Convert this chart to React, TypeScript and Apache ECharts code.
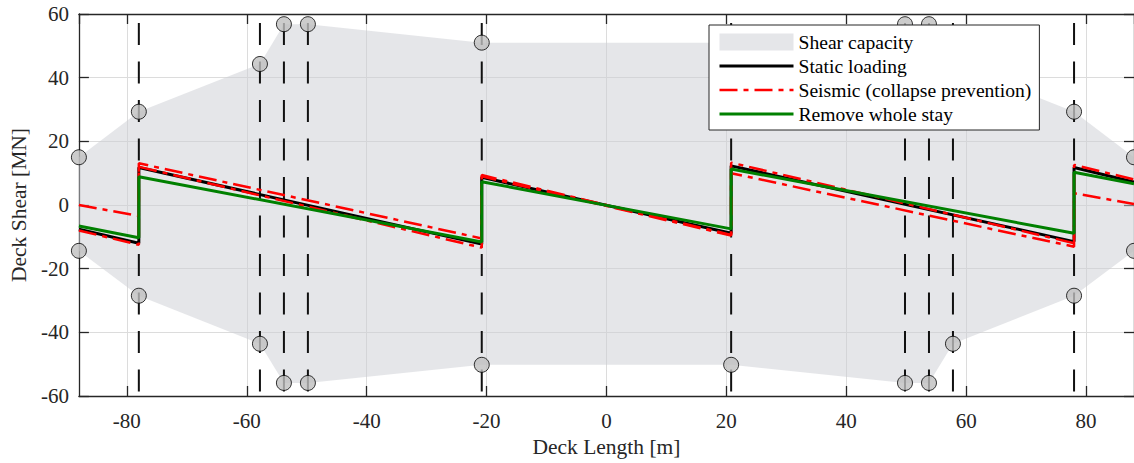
import React, { useEffect, useRef } from "react";
import * as echarts from "echarts";

// ---- data ----
const xMin = -88;
const xMax = 88;

const towerX = [-78, -57.8, -53.8, -49.8, -20.8, 20.8, 49.8, 53.8, 57.8, 78];
const towerTop = 57.2;
const towerBottom = -60;

const capX = [-88, -78, -57.8, -53.8, -49.8, -20.8, 20.8, 49.8, 53.8, 57.8, 78, 88];
const capUpper = [15, 29.3, 44.3, 56.8, 56.8, 51, 51, 56.8, 56.8, 44.3, 29.3, 15];
const capLower = [-14.4, -28.5, -43.6, -55.9, -55.9, -50.2, -50.2, -55.9, -55.9, -43.6, -28.5, -14.4];

const segX = [-88, -78, -78, -20.8, -20.8, 20.8, 20.8, 78, 78, 88];
const staticV = [-7.6, -12, 11.8, -12.3, 8.7, -8.9, 12.3, -11.5, 11.8, 7.2];
const seismicUpperV = [0, -3.4, 13.1, -10.5, 9.4, -9.4, 13.3, -12, 12.6, 8];
const seismicLowerV = [-8, -12.5, 12, -13.4, 9, -9.6, 10, -13.1, 3.7, 0.3];
const removeV = [-6.6, -10.3, 8.9, -11.6, 7.3, -7.5, 11.3, -8.9, 10.3, 6.7];

const names = {
  cap: "Shear capacity",
  stat: "Static loading",
  seis: "Seismic (collapse prevention)",
  rem: "Remove whole stay",
};

const FONT = "'Liberation Serif', 'Times New Roman', serif";
const AX = "#262626";
const CAP_FILL = "rgba(204,206,211,0.5)";
const SEIS_DASH = [18, 6, 5, 6];

const pairs = (xs: number[], ys: number[]) => xs.map((x, i) => [x, ys[i]]);

const hiddenSymbol = { color: "transparent", borderWidth: 0, opacity: 0 };

export default function App() {
  const ref = useRef<HTMLDivElement>(null);
  useEffect(() => {
    if (!ref.current) return;
    const chart = echarts.init(ref.current, null, { renderer: "svg" });
    const gridLeft = 77;
    const gridTop = 14;
    const gridW = 1061.5;
    const gridH = 382;
    const axisLineStyle = { color: AX, width: 1.3 };
    const option: any = {
      animation: false,
      backgroundColor: "#fff",
      grid: { left: gridLeft, top: gridTop, width: gridW, height: gridH },
      legend: {
        orient: "vertical",
        left: 709,
        top: 25,
        z: 10,
        padding: [7, 8, 6, 9],
        itemWidth: 74,
        itemHeight: 17,
        itemGap: 4,
        backgroundColor: "#fff",
        borderColor: AX,
        borderWidth: 1,
        borderRadius: 0,
        textStyle: { fontFamily: FONT, fontSize: 19.6, color: "#000" },
        data: [
          { name: names.cap, icon: "rect" },
          { name: names.stat, itemStyle: hiddenSymbol, lineStyle: { width: 3, color: "#000" } },
          {
            name: names.seis,
            itemStyle: hiddenSymbol,
            lineStyle: { width: 2.5, color: "#ff0000", type: SEIS_DASH },
          },
          { name: names.rem, itemStyle: hiddenSymbol, lineStyle: { width: 3, color: "#008000" } },
        ],
      },
      xAxis: [
        {
          type: "value",
          min: xMin,
          max: xMax,
          splitNumber: 8,
          position: "bottom",
          name: "Deck Length [m]",
          nameLocation: "middle",
          nameGap: 40,
          nameTextStyle: { fontFamily: FONT, fontSize: 21.5, color: AX },
          axisLine: { show: true, onZero: false, lineStyle: axisLineStyle },
          axisTick: { show: true, inside: true, length: 10, lineStyle: { color: AX, width: 1.3 } },
          axisLabel: {
            show: true,
            margin: 14,
            fontFamily: FONT,
            fontSize: 21,
            color: AX,
            showMinLabel: false,
            showMaxLabel: false,
          },
          splitLine: { show: true, lineStyle: { color: "#dcdcdc", width: 1 } },
        },
        {
          type: "value",
          min: xMin,
          max: xMax,
          splitNumber: 8,
          position: "top",
          axisLine: { show: true, onZero: false, lineStyle: axisLineStyle },
          axisTick: { show: true, inside: true, length: 10, lineStyle: { color: AX, width: 1.3 } },
          axisLabel: { show: false },
          splitLine: { show: false },
        },
      ],
      yAxis: [
        {
          type: "value",
          min: -60,
          max: 60,
          interval: 20,
          position: "left",
          name: "Deck Shear [MN]",
          nameLocation: "middle",
          nameGap: 46,
          nameTextStyle: { fontFamily: FONT, fontSize: 21.5, color: AX },
          axisLine: { show: true, onZero: false, lineStyle: axisLineStyle },
          axisTick: { show: true, inside: true, length: 10, lineStyle: { color: AX, width: 1.3 } },
          axisLabel: { margin: 10, fontFamily: FONT, fontSize: 21, color: AX },
          splitLine: { show: true, lineStyle: { color: "#dcdcdc", width: 1 } },
        },
        {
          type: "value",
          min: -60,
          max: 60,
          interval: 20,
          position: "right",
          axisLine: { show: true, onZero: false, lineStyle: axisLineStyle },
          axisTick: { show: true, inside: true, length: 10, lineStyle: { color: AX, width: 1.3 } },
          axisLabel: { show: false },
          splitLine: { show: false },
        },
      ],
      series: [
        {
          name: names.cap,
          type: "custom",
          z: 1,
          silent: true,
          itemStyle: { color: CAP_FILL },
          data: [[0, 0]],
          encode: { x: 0, y: 1 },
          renderItem: (params: any, api: any) => {
            const top = capX.map((x, i) => api.coord([x, capUpper[i]]));
            const bot = capX.map((x, i) => api.coord([x, capLower[i]])).reverse();
            return {
              type: "polygon",
              shape: { points: top.concat(bot) },
              style: { fill: CAP_FILL, stroke: "none" },
            };
          },
        },
        {
          name: "towers",
          type: "custom",
          z: 2,
          silent: true,
          data: towerX.map((x) => [x, towerTop]),
          encode: { x: 0, y: 1 },
          renderItem: (params: any, api: any) => {
            const x = api.value(0);
            const p1 = api.coord([x, towerTop]);
            const p2 = api.coord([x, towerBottom]);
            return {
              type: "line",
              shape: { x1: p1[0], y1: p1[1], x2: p2[0], y2: p2[1] },
              style: { stroke: "#111", lineWidth: 2, lineDash: [22, 16.5] },
            };
          },
        },
        {
          name: "capPoints",
          type: "scatter",
          z: 2,
          silent: true,
          symbol: "circle",
          symbolSize: 15,
          itemStyle: { color: "#bfbfbf", borderColor: "#000", borderWidth: 1 },
          data: pairs(capX, capUpper).concat(pairs(capX, capLower)),
        },
        {
          name: names.stat,
          type: "line",
          z: 3,
          symbol: "none",
          lineStyle: { color: "#000", width: 3 },
          itemStyle: { color: "#000" },
          data: pairs(segX, staticV),
        },
        {
          name: names.seis,
          type: "line",
          z: 3,
          symbol: "none",
          lineStyle: { color: "#ff0000", width: 2.5, type: SEIS_DASH },
          itemStyle: { color: "#ff0000" },
          data: pairs(segX, seismicUpperV),
        },
        {
          name: names.seis,
          type: "line",
          z: 3,
          symbol: "none",
          lineStyle: { color: "#ff0000", width: 2.5, type: SEIS_DASH },
          itemStyle: { color: "#ff0000" },
          data: pairs(segX, seismicLowerV),
        },
        {
          name: names.rem,
          type: "line",
          z: 3,
          symbol: "none",
          lineStyle: { color: "#008000", width: 3 },
          itemStyle: { color: "#008000" },
          data: pairs(segX, removeV),
        },
      ],
    };
    chart.setOption(option);
    return () => chart.dispose();
  }, []);
  return (
    <div
      ref={ref}
      style={{ position: "absolute", left: 0, top: 0, width: 1134, height: 463 }}
    />
  );
}
